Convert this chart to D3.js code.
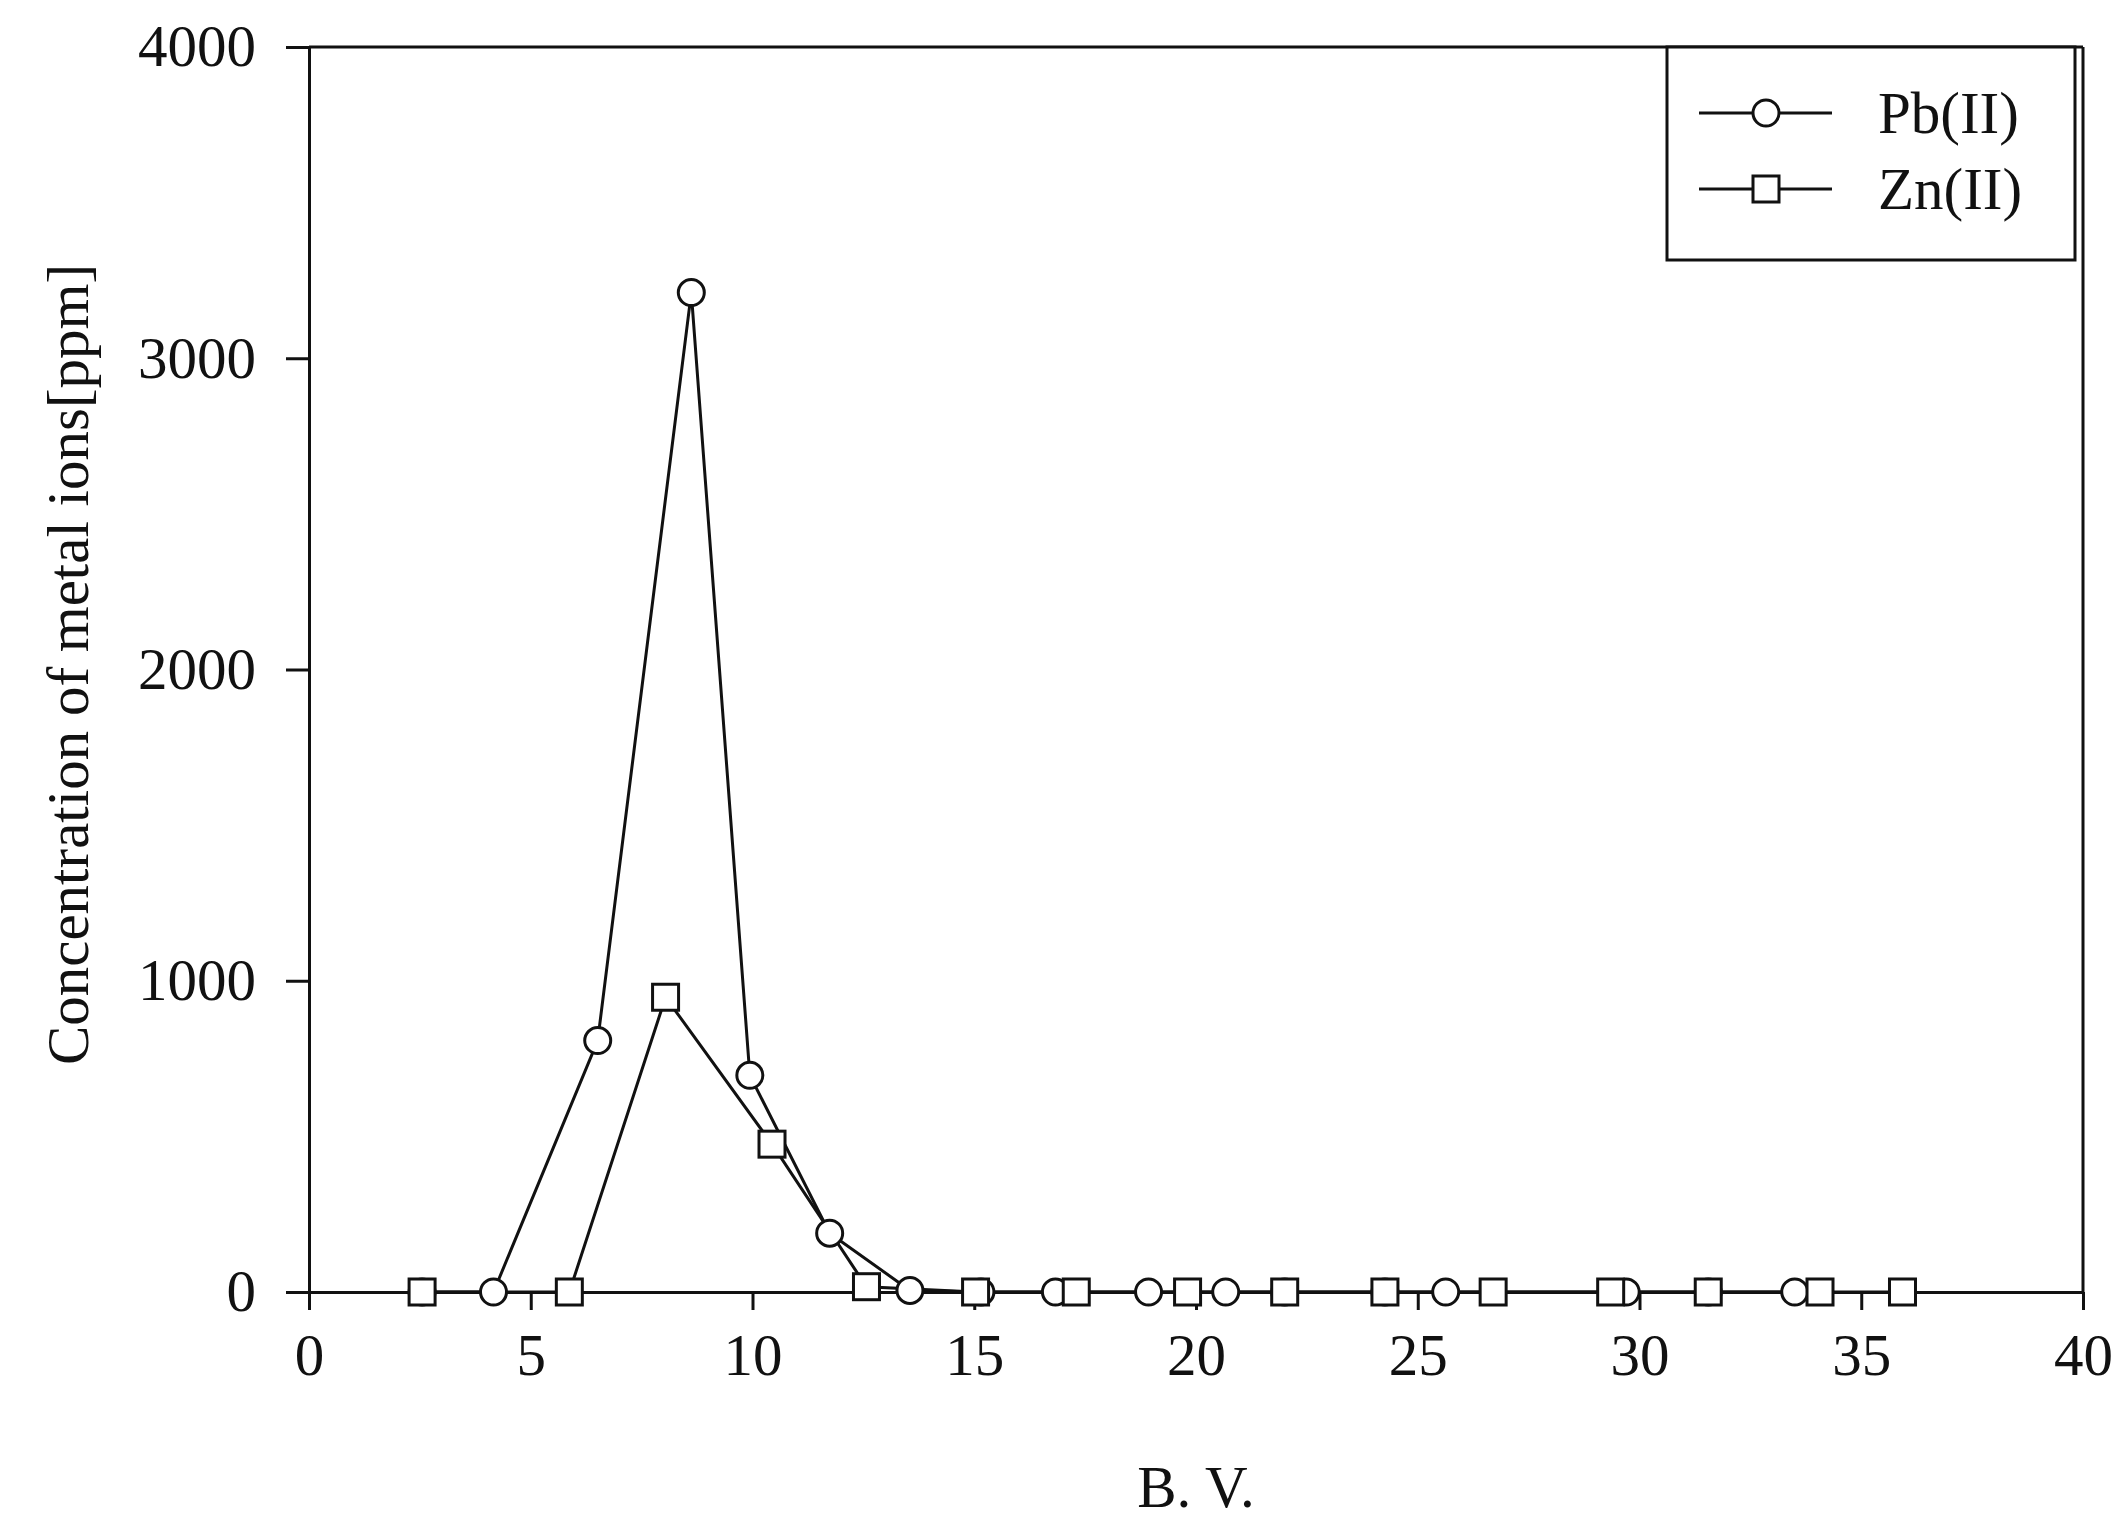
<!DOCTYPE html>
<html>
<head>
<meta charset="utf-8">
<script src="https://cdn.jsdelivr.net/npm/d3@7"></script>
<style>
  html, body { margin: 0; padding: 0; background: #fff; }
  svg { display: block; }
  text { font-family: "Liberation Serif", "Times New Roman", serif; fill: #111; }
</style>
</head>
<body>
<svg id="chart" width="2128" height="1535"></svg>
<script>
// ---- data ----
const pbBV   = [2.55, 4.16, 6.51, 8.62, 9.94, 11.74, 13.55, 15.15, 16.83, 18.93, 20.67, 22.0, 24.26, 25.63, 29.7, 31.55, 33.5];
const pbConc = [0,    0,    808,  3211, 696,  189,   5,     0,     0,     0,     0,     0,    0,     0,     0,    0,     0];
const znBV   = [2.55, 5.87, 8.04, 10.44, 12.57, 15.03, 17.3, 19.81, 22.0, 24.26, 26.7, 29.35, 31.55, 34.07, 35.93];
const znConc = [0,    0,    947,  475,   17,    0,     0,    0,     0,    0,     0,    0,     0,     0,     0];
const xTicks = [0, 5, 10, 15, 20, 25, 30, 35, 40];
const yTicks = [0, 1000, 2000, 3000, 4000];
const seriesNames = ["Pb(II)", "Zn(II)"];
const xTitle = "B. V.";
const yTitle = "Concentration of metal ions[ppm]";

// ---- layout ----
const mLeft = 309, mRight = 2083, mTop = 47, mBottom = 1292;
const fontSize = 59;
const svg = d3.select("#chart");

const x = d3.scaleLinear().domain([0, 40]).range([mLeft, mRight]);
const y = d3.scaleLinear().domain([0, 4000]).range([mBottom, mTop]);

// frame top/right
svg.append("line").attr("x1", mLeft).attr("x2", mRight).attr("y1", mTop).attr("y2", mTop)
  .attr("stroke", "#111").attr("stroke-width", 3);
svg.append("line").attr("x1", mRight).attr("x2", mRight).attr("y1", mTop).attr("y2", mBottom)
  .attr("stroke", "#111").attr("stroke-width", 3);

// axes
const xAxis = d3.axisBottom(x).tickValues(xTicks).tickFormat(d3.format("d"))
  .tickSizeInner(18).tickSizeOuter(0).tickPadding(40);
const gx = svg.append("g").attr("transform", `translate(0,${mBottom})`).call(xAxis);
const yAxis = d3.axisLeft(y).tickValues(yTicks).tickFormat(d3.format("d"))
  .tickSizeInner(23).tickSizeOuter(0).tickPadding(30);
const gy = svg.append("g").attr("transform", `translate(${mLeft},0)`).call(yAxis);

[gx, gy].forEach(g => {
  g.select(".domain").attr("stroke", "#111").attr("stroke-width", 3);
  g.selectAll(".tick line").attr("stroke", "#111").attr("stroke-width", 3);
  g.selectAll(".tick text").attr("font-size", fontSize)
    .attr("font-family", "Liberation Serif").attr("fill", "#111");
});
gx.selectAll(".tick text").attr("dy", "0.42em");

// titles
svg.append("text").attr("x", (mLeft + mRight) / 2).attr("y", 1507)
  .attr("text-anchor", "middle").attr("font-size", fontSize).text(xTitle);
svg.append("text").attr("transform", `translate(88,${(mTop + mBottom) / 2 - 5}) rotate(-90)`)
  .attr("text-anchor", "middle").attr("font-size", fontSize).attr("fill", "#2e1f15").text(yTitle);

// lines
const line = d3.line().x(d => x(d[0])).y(d => y(d[1]));
const pbData = pbBV.map((v, i) => [v, pbConc[i]]);
const znData = znBV.map((v, i) => [v, znConc[i]]);

svg.append("path").datum(pbData).attr("d", line)
  .attr("fill", "none").attr("stroke", "#111").attr("stroke-width", 3);
svg.append("path").datum(znData).attr("d", line)
  .attr("fill", "none").attr("stroke", "#111").attr("stroke-width", 3);

// markers
const r = 13, s = 26;
svg.append("g").selectAll("circle").data(pbData).join("circle")
  .attr("cx", d => x(d[0])).attr("cy", d => y(d[1])).attr("r", r)
  .attr("fill", "#fff").attr("stroke", "#111").attr("stroke-width", 3);
svg.append("g").selectAll("rect").data(znData).join("rect")
  .attr("x", d => x(d[0]) - s / 2).attr("y", d => y(d[1]) - s / 2)
  .attr("width", s).attr("height", s)
  .attr("fill", "#fff").attr("stroke", "#111").attr("stroke-width", 3);

// legend
const lg = svg.append("g");
lg.append("rect").attr("x", 1667).attr("y", mTop).attr("width", 2075 - 1667).attr("height", 260 - mTop)
  .attr("fill", "#fff").attr("stroke", "#111").attr("stroke-width", 3);
const legendRows = [113, 189];
seriesNames.forEach((name, i) => {
  const ly = legendRows[i];
  lg.append("line").attr("x1", 1699).attr("x2", 1832).attr("y1", ly).attr("y2", ly)
    .attr("stroke", "#111").attr("stroke-width", 3);
  if (i === 0) {
    lg.append("circle").attr("cx", 1766).attr("cy", ly).attr("r", r)
      .attr("fill", "#fff").attr("stroke", "#111").attr("stroke-width", 3);
  } else {
    lg.append("rect").attr("x", 1766 - s / 2).attr("y", ly - s / 2).attr("width", s).attr("height", s)
      .attr("fill", "#fff").attr("stroke", "#111").attr("stroke-width", 3);
  }
  lg.append("text").attr("x", 1878).attr("y", ly + 20).attr("font-size", fontSize).text(name);
});
</script>
</body>
</html>
